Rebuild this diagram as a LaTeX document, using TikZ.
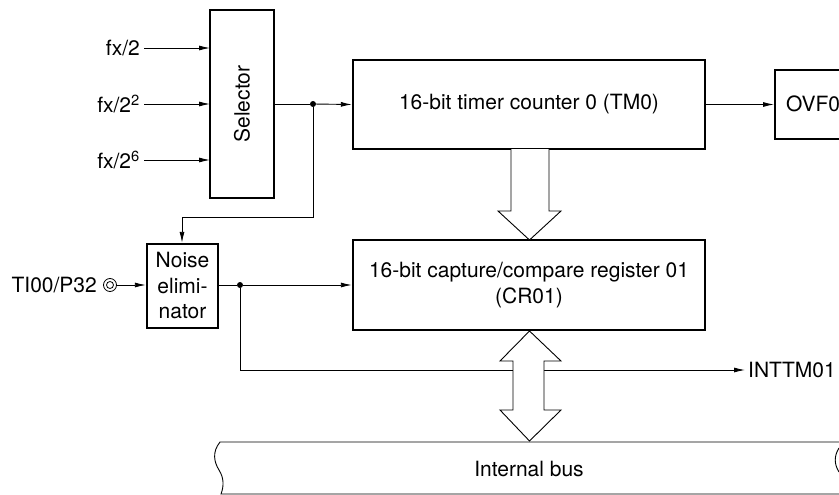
\documentclass[tikz,border=0pt]{standalone}
\usepackage{fontspec}
\setmainfont{TeX Gyre Heros}
\usetikzlibrary{arrows.meta}
\tikzset{
  blk/.style={draw, line width=2.4pt, inner sep=0pt},
  wire/.style={line width=0.9pt},
  arr/.style={wire, -{Latex[length=11pt,width=5pt]}},
  hollow/.style={draw, line width=0.9pt, fill=white, line join=miter},
  lbl/.style={inner sep=0pt, font=\fontsize{21}{25.5}\selectfont},
  dot/.style={circle, fill, inner sep=0pt, minimum size=6pt},
}
\begin{document}
\begin{tikzpicture}[x=1pt, y=-1pt]
\useasboundingbox (0,0) rectangle (839,495);
\clip (0,0) rectangle (839,495);
% blocks
\node[blk, minimum width=64pt, minimum height=188pt] (sel) at (242,104) {};
\node[lbl, rotate=90] (seltxt) at (sel.center) {Selector};
\node[blk, minimum width=352pt, minimum height=89pt] (tm0) at (529,104.5) {};
\node[lbl] (tm0txt) at (tm0.center) {16-bit timer counter 0 (TM0)};
\node[blk, minimum width=352pt, minimum height=90pt] (cr01) at (529,285) {};
\node[lbl, align=center] (cr01txt) at (cr01.center) {16-bit capture/compare register 01\\(CR01)};
\node[blk, minimum width=71pt, minimum height=84pt] (noise) at (182.5,286) {};
\node[lbl, align=center] (noisetxt) at (noise.center) {Noise\\elimi-\\nator};
\node[blk, minimum width=90pt, minimum height=69pt, anchor=north west] (ovf) at (774,69) {};
\node[lbl, anchor=west] (ovftxt) at (786,103.5) {OVF0};
% inputs
\node[lbl, anchor=east] (in1) at (140,48) {fx/2};
\node[lbl, anchor=east] (in2) at (140,104) {fx/2\textsuperscript{2}};
\node[lbl, anchor=east] (in3) at (140,160) {fx/2\textsuperscript{6}};
\coordinate (s1) at (210,48);
\coordinate (s2) at (210,104);
\coordinate (s3) at (210,160);
\draw[arr] (in1.east) ++(4,0) -- (s1);
\draw[arr] (in2.east) ++(4,0) -- (s2);
\draw[arr] (in3.east) ++(4,0) -- (s3);
% selector out
\node[dot] (j1) at (313,104) {};
\draw[wire] (sel.east) -- (j1);
\draw[arr] (j1) -- (tm0.west);
\coordinate (c1) at (313,217);
\coordinate (c2) at (182,217);
\draw[arr] (j1) -- (c1) -- (c2) -- (noise.north -| c2);
% overflow
\draw[arr] (tm0.east) -- (ovf.west |- tm0.east);
% TI00 input
\node[lbl, anchor=east] (ti) at (97,285) {TI00/P32};
\node[circle, draw, line width=0.8pt, minimum size=13pt, inner sep=0pt] (pin) at (110,285) {};
\node[circle, draw, line width=0.8pt, minimum size=7pt, inner sep=0pt] (pinin) at (110,285) {};
\draw[arr] (pin.east) -- (noise.west |- pin.east);
% noise out
\node[dot] (j2) at (240,285) {};
\draw[wire] (noise.east |- j2) -- (j2);
\draw[arr] (j2) -- (cr01.west |- j2);
\coordinate (c3) at (240,370);
\node[lbl, anchor=west] (intt) at (748,370) {INTTM01};
\coordinate (c4) at (745,370);
\draw[arr] (j2) -- (c3) -- (c4);
% internal bus
\coordinate (bl1) at (220,442);
\coordinate (bl2) at (221,494);
\draw[line width=0.9pt] (850,442) -- (bl1)
  .. controls (212,452) and (214,462) .. (219,470)
  .. controls (224,478) and (224,486) .. (bl2) -- (850,494);
\draw[line width=0.9pt] (839,448) .. controls (834,456) and (834,464) .. (839,472);
\node[lbl] (bus) at (529,469) {Internal bus};
% hollow arrows
\draw[hollow] (511,149) -- (511,211) -- (498,211) -- (529.5,240) -- (561,211) -- (549,211) -- (549,149);
\draw[hollow] (529.5,331) -- (561,361) -- (544,361) -- (544,410) -- (561,410) -- (529.5,441)
  -- (500,410) -- (513,410) -- (513,361) -- (500,361) -- cycle;
\end{tikzpicture}
\end{document}
